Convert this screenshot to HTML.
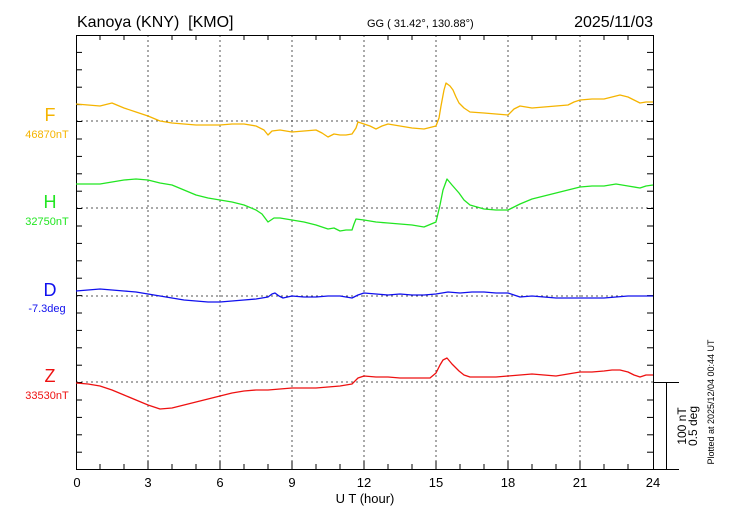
<!DOCTYPE html>
<html><head><meta charset="utf-8"><style>
html,body{margin:0;padding:0;background:#fff;}
svg{display:block;font-family:"Liberation Sans",sans-serif;}
</style></head><body>
<svg width="730" height="520" viewBox="0 0 730 520" xmlns="http://www.w3.org/2000/svg">
<rect width="730" height="520" fill="#fff"/>
<text x="77" y="27" font-size="16">Kanoya (KNY) &#160;[KMO]</text>
<text x="367" y="27" font-size="11">GG ( 31.42°, 130.88°)</text>
<text x="653" y="27" font-size="16" text-anchor="end">2025/11/03</text>
<g stroke="#555" stroke-width="1" stroke-dasharray="2,3">
<line x1="148" y1="35" x2="148" y2="469"/><line x1="220" y1="35" x2="220" y2="469"/><line x1="292" y1="35" x2="292" y2="469"/><line x1="364" y1="35" x2="364" y2="469"/><line x1="436" y1="35" x2="436" y2="469"/><line x1="508" y1="35" x2="508" y2="469"/><line x1="580" y1="35" x2="580" y2="469"/>
<line x1="76" y1="121" x2="653" y2="121"/><line x1="76" y1="208" x2="653" y2="208"/><line x1="76" y1="296" x2="653" y2="296"/><line x1="76" y1="382" x2="653" y2="382"/>
</g>
<g stroke="#000" stroke-width="1" fill="none">
<rect x="76.5" y="35.5" width="577" height="434"/>
</g>
<g stroke="#000" stroke-width="1">
<line x1="100" y1="35" x2="100" y2="40"/><line x1="124" y1="35" x2="124" y2="40"/><line x1="172" y1="35" x2="172" y2="40"/><line x1="196" y1="35" x2="196" y2="40"/><line x1="244" y1="35" x2="244" y2="40"/><line x1="268" y1="35" x2="268" y2="40"/><line x1="316" y1="35" x2="316" y2="40"/><line x1="340" y1="35" x2="340" y2="40"/><line x1="388" y1="35" x2="388" y2="40"/><line x1="412" y1="35" x2="412" y2="40"/><line x1="460" y1="35" x2="460" y2="40"/><line x1="484" y1="35" x2="484" y2="40"/><line x1="532" y1="35" x2="532" y2="40"/><line x1="556" y1="35" x2="556" y2="40"/><line x1="604" y1="35" x2="604" y2="40"/><line x1="628" y1="35" x2="628" y2="40"/>
<line x1="100" y1="469" x2="100" y2="464"/><line x1="124" y1="469" x2="124" y2="464"/><line x1="172" y1="469" x2="172" y2="464"/><line x1="196" y1="469" x2="196" y2="464"/><line x1="244" y1="469" x2="244" y2="464"/><line x1="268" y1="469" x2="268" y2="464"/><line x1="316" y1="469" x2="316" y2="464"/><line x1="340" y1="469" x2="340" y2="464"/><line x1="388" y1="469" x2="388" y2="464"/><line x1="412" y1="469" x2="412" y2="464"/><line x1="460" y1="469" x2="460" y2="464"/><line x1="484" y1="469" x2="484" y2="464"/><line x1="532" y1="469" x2="532" y2="464"/><line x1="556" y1="469" x2="556" y2="464"/><line x1="604" y1="469" x2="604" y2="464"/><line x1="628" y1="469" x2="628" y2="464"/>
<line x1="148" y1="469" x2="148" y2="461"/><line x1="220" y1="469" x2="220" y2="461"/><line x1="292" y1="469" x2="292" y2="461"/><line x1="364" y1="469" x2="364" y2="461"/><line x1="436" y1="469" x2="436" y2="461"/><line x1="508" y1="469" x2="508" y2="461"/><line x1="580" y1="469" x2="580" y2="461"/>
</g>
<g stroke="#000" stroke-width="1">
<line x1="76" y1="52.4" x2="82" y2="52.4"/><line x1="76" y1="69.8" x2="82" y2="69.8"/><line x1="76" y1="87.2" x2="82" y2="87.2"/><line x1="76" y1="104.6" x2="82" y2="104.6"/><line x1="76" y1="121.5" x2="82" y2="121.5"/><line x1="76" y1="139" x2="82" y2="139"/><line x1="76" y1="156.4" x2="82" y2="156.4"/><line x1="76" y1="173.8" x2="82" y2="173.8"/><line x1="76" y1="191.2" x2="82" y2="191.2"/><line x1="76" y1="208.5" x2="82" y2="208.5"/><line x1="76" y1="226" x2="82" y2="226"/><line x1="76" y1="243.4" x2="82" y2="243.4"/><line x1="76" y1="260.8" x2="82" y2="260.8"/><line x1="76" y1="278.2" x2="82" y2="278.2"/><line x1="76" y1="295.6" x2="82" y2="295.6"/><line x1="76" y1="313" x2="82" y2="313"/><line x1="76" y1="330.4" x2="82" y2="330.4"/><line x1="76" y1="347.8" x2="82" y2="347.8"/><line x1="76" y1="365.2" x2="82" y2="365.2"/><line x1="76" y1="382.5" x2="82" y2="382.5"/><line x1="76" y1="400" x2="82" y2="400"/><line x1="76" y1="417.4" x2="82" y2="417.4"/><line x1="76" y1="434.8" x2="82" y2="434.8"/><line x1="76" y1="452.2" x2="82" y2="452.2"/>
<line x1="653" y1="52.4" x2="647" y2="52.4"/><line x1="653" y1="69.8" x2="647" y2="69.8"/><line x1="653" y1="87.2" x2="647" y2="87.2"/><line x1="653" y1="104.6" x2="647" y2="104.6"/><line x1="653" y1="121.5" x2="647" y2="121.5"/><line x1="653" y1="139" x2="647" y2="139"/><line x1="653" y1="156.4" x2="647" y2="156.4"/><line x1="653" y1="173.8" x2="647" y2="173.8"/><line x1="653" y1="191.2" x2="647" y2="191.2"/><line x1="653" y1="208.5" x2="647" y2="208.5"/><line x1="653" y1="226" x2="647" y2="226"/><line x1="653" y1="243.4" x2="647" y2="243.4"/><line x1="653" y1="260.8" x2="647" y2="260.8"/><line x1="653" y1="278.2" x2="647" y2="278.2"/><line x1="653" y1="295.6" x2="647" y2="295.6"/><line x1="653" y1="313" x2="647" y2="313"/><line x1="653" y1="330.4" x2="647" y2="330.4"/><line x1="653" y1="347.8" x2="647" y2="347.8"/><line x1="653" y1="365.2" x2="647" y2="365.2"/><line x1="653" y1="400" x2="647" y2="400"/><line x1="653" y1="417.4" x2="647" y2="417.4"/><line x1="653" y1="434.8" x2="647" y2="434.8"/><line x1="653" y1="452.2" x2="647" y2="452.2"/>
<line x1="653" y1="382.5" x2="679" y2="382.5"/><line x1="653" y1="469.5" x2="679" y2="469.5"/><line x1="666.5" y1="382" x2="666.5" y2="469"/>
</g>
<g font-size="13" text-anchor="middle">
<text x="77" y="487">0</text><text x="148" y="487">3</text><text x="220" y="487">6</text><text x="292" y="487">9</text><text x="364" y="487">12</text><text x="436" y="487">15</text><text x="508" y="487">18</text><text x="580" y="487">21</text><text x="653" y="487">24</text>
<text x="365" y="503">U T (hour)</text>
</g>
<text transform="translate(686,426) rotate(-90)" font-size="12" text-anchor="middle">100 nT</text>
<text transform="translate(697,426) rotate(-90)" font-size="12" text-anchor="middle">0.5 deg</text>
<text transform="translate(714,402) rotate(-90)" font-size="9" text-anchor="middle">Plotted at 2025/12/04 00:44 UT</text>
<g text-anchor="middle">
<text x="50" y="121" font-size="18" fill="#f5b400">F</text><text x="47" y="138" font-size="11" fill="#f5b400">46870nT</text>
<text x="50" y="208" font-size="18" fill="#22e622">H</text><text x="47" y="225" font-size="11" fill="#22e622">32750nT</text>
<text x="50" y="296" font-size="18" fill="#1010ee">D</text><text x="47" y="312" font-size="11" fill="#1010ee">-7.3deg</text>
<text x="50" y="382" font-size="18" fill="#ee1111">Z</text><text x="47" y="399" font-size="11" fill="#ee1111">33530nT</text>
</g>
<g fill="none" stroke-width="1.3" stroke-linejoin="round">
<polyline stroke="#f5b400" points="76,104 100,106 112,103 124,108 136,112 148,116 160,121 172,123 184,124 196,125 208,125 220,125 232,124 244,124 256,126 264,130 268,135 272,131 280,130 292,132 304,131 316,130 322,133 328,137 334,134 340,135 346,135 352,134 356,128 358,122 364,124 370,126 376,129 382,126 388,124 400,126 412,128 424,129 436,126 439,118 441,106 444,90 446,83 450,86 453,90 456,97 459,103 464,108 470,112 484,113 496,114 508,115 514,109 520,106 532,108 544,107 556,106 568,105 574,102 580,100 592,99 604,99 612,97 620,95 628,97 634,100 640,103 646,102 653,102"/>
<polyline stroke="#22e622" points="76,184 100,184 112,182 124,180 136,179 148,180 160,183 172,185 184,190 196,195 208,198 220,200 232,202 244,205 256,210 262,214 268,222 274,218 280,218 292,220 304,222 316,225 328,229 334,228 340,231 346,230 352,230 354,224 356,219 364,220 376,222 388,223 400,224 412,225 424,227 436,222 440,205 443,190 447,179 452,185 459,193 464,200 470,205 484,209 496,210 508,210 514,207 520,204 532,199 544,196 556,193 568,190 580,187 592,186 604,186 616,184 628,186 640,188 646,186 653,185"/>
<polyline stroke="#1010ee" points="76,291 100,289 112,290 124,291 136,292 148,294 160,296 172,298 184,300 196,301 208,302 220,302 232,301 244,300 256,299 268,297 272,294 275,293 279,296 283,298 292,296 304,297 316,297 328,296 340,296 352,298 358,295 364,293 376,294 388,295 400,294 412,295 424,295 436,294 448,292 460,293 472,292 484,292 496,293 508,293 514,295 520,297 532,296 544,297 556,298 568,298 580,298 592,298 604,298 616,297 628,296 640,296 653,296"/>
<polyline stroke="#ee1111" points="76,383 88,384 100,386 112,390 124,395 136,400 148,405 160,409 172,408 184,405 196,402 208,399 220,396 232,393 244,391 256,390 268,390 280,389 292,388 304,388 316,388 328,387 340,386 352,384 358,378 364,376 376,377 388,377 400,378 412,378 424,378 430,378 436,373 440,365 443,360 447,358 452,364 459,371 464,375 470,377 484,377 496,377 508,376 520,375 532,374 544,375 556,376 568,374 580,372 592,372 604,371 612,370 620,370 628,372 634,375 640,377 646,375 653,375"/>
</g>
</svg>
</body></html>
